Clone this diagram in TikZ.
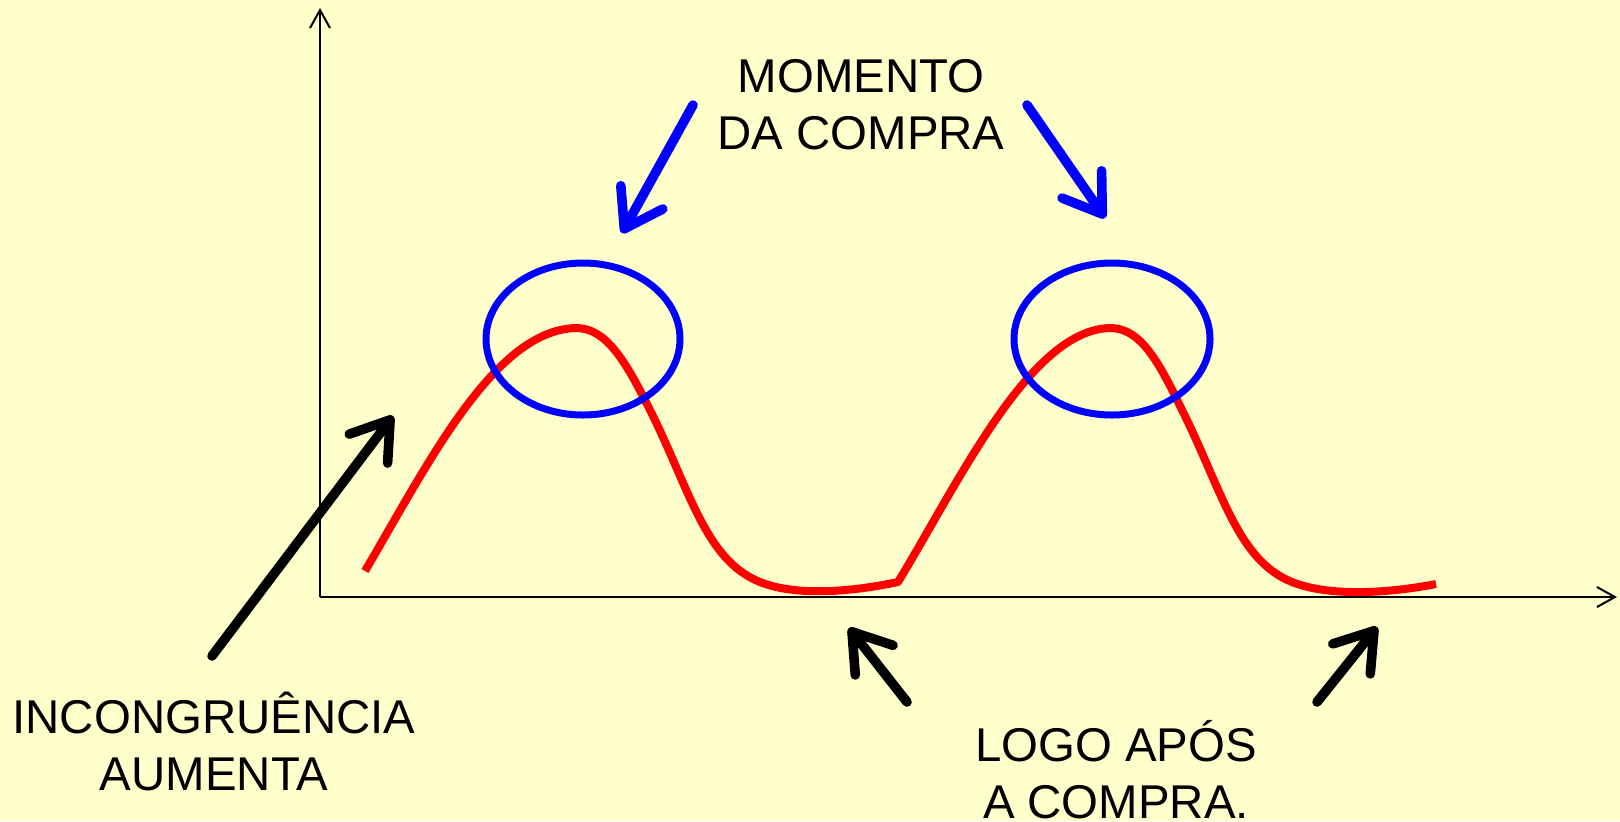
\documentclass[tikz,border=0pt]{standalone}
\usepackage{fontspec}
\setmainfont{Liberation Sans}
\usetikzlibrary{arrows.meta}
\definecolor{paper}{RGB}{255,255,204}

\begin{document}
\begin{tikzpicture}[x=0.5pt, y=-0.5pt,
  axis/.style={line width=1pt, -{Straight Barb[length=9pt, width=10pt]}},
  curve/.style={red, line width=4pt, line join=round},
  ring/.style={blue, line width=3.5pt},
  pointer/.style={line width=4.8pt, line cap=round, -{Straight Barb[length=18pt, width=24pt, round]}},
  caption/.style={font=\fontsize{23.7}{28.5}\selectfont, align=center, inner sep=0pt}]
\fill[paper] (0,0) rectangle (1620,821);
\useasboundingbox (0,0) rectangle (1620,821);
% axes
\coordinate (origin) at (320,597);
\coordinate (ytop)   at (320,8);
\coordinate (xend)   at (1617,597);
\draw[axis] (origin) -- (ytop);
\draw[axis] (origin) -- (xend);
% dissonance curve
\draw[curve] (365,571) .. controls (430,460) and (495,330) .. (576,328)
  .. controls (606,328) and (625,360) .. (650,410)
  .. controls (690,490) and (705,560) .. (760,582)
  .. controls (800,598) and (860,590) .. (898,582)
  .. controls (960,480) and (1030,330) .. (1110,328)
  .. controls (1140,328) and (1158,360) .. (1182,410)
  .. controls (1222,490) and (1237,560) .. (1292,582)
  .. controls (1332,598) and (1395,592) .. (1436,584);
\draw[ring] (583,339) ellipse [x radius=97, y radius=76];
\draw[ring] (1112,339) ellipse [x radius=98, y radius=76];
% labels
\node[caption] (moment) at (861,105) {MOMENTO\\DA COMPRA};
\node[caption] (rise)   at (214,741) {INCONGRUÊNCIA\\AUMENTA};
\node[caption] (after)  at (1116,770) {LOGO APÓS\\A COMPRA.};
% pointers
\coordinate (mtailA) at (693,105); \coordinate (mtipA) at (622,233);
\coordinate (mtailB) at (1027,105); \coordinate (mtipB) at (1105,218);
\coordinate (rtail) at (212,656); \coordinate (rtip) at (393,416);
\coordinate (atailA) at (907,702); \coordinate (atipA) at (849,628);
\coordinate (atailB) at (1317,702); \coordinate (atipB) at (1377,627);
\draw[pointer, blue] (mtailA) -- (mtipA);
\draw[pointer, blue] (mtailB) -- (mtipB);
\draw[pointer] (rtail) -- (rtip);
\draw[pointer] (atailA) -- (atipA);
\draw[pointer] (atailB) -- (atipB);
\end{tikzpicture}
\end{document}
